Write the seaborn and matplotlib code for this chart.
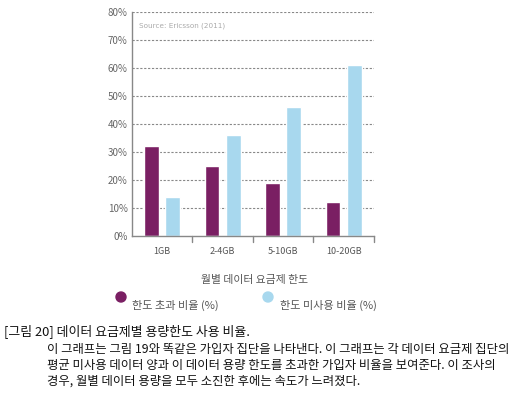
import matplotlib
matplotlib.use("Agg")
import matplotlib.pyplot as plt
import pandas as pd
import seaborn as sns

# data
plans = ["1GB", "2-4GB", "5-10GB", "10-20GB"]
over_limit = [32, 25, 19, 12]
unused = [14, 36, 46, 61]
series_names = ["한도 초과 비율 (%)", "한도 미사용 비율 (%)"]
colors = ["#7a1f63", "#a8d8ee"]
yticks = [0, 10, 20, 30, 40, 50, 60, 70, 80]

sns.set_theme(style="white")
plt.rcParams["font.family"] = ["Noto Sans CJK KR", "DejaVu Sans"]

df = pd.DataFrame({
    "plan": plans * 2,
    "value": over_limit + unused,
    "series": [series_names[0]] * 4 + [series_names[1]] * 4,
})

fig = plt.figure(figsize=(5.15, 3.95), dpi=100)
ax = fig.add_axes([0.256, 0.4025, 0.47, 0.567])

sns.barplot(data=df, x="plan", y="value", hue="series", palette=colors,
            width=0.7, gap=0.3, ax=ax, legend=False, saturation=1)

ax.set_ylim(0, 80)
ax.set_xlim(-0.5, 3.5)
ax.set_yticks(yticks)
ax.set_yticklabels([f"{v}%" for v in yticks], color="#666666", fontsize=7)
ax.tick_params(axis="y", length=0, pad=3)
ax.set_xticks([0, 1, 2, 3])
ax.set_xticklabels(plans, color="#555555", fontsize=6.5)
ax.tick_params(axis="x", length=0, pad=8)
# boundary ticks between categories
for b in [0.5, 1.5, 2.5, 3.5]:
    ax.plot([b, b], [0, -2], color="#888888", lw=1, clip_on=False)
ax.set_xlabel("")
ax.set_ylabel("")
ax.set_axisbelow(True)
for v in yticks[1:]:
    ax.axhline(v, color="#888888", lw=0.8, ls=(0, (2, 1.5)), zorder=0)
for s in ["top", "right"]:
    ax.spines[s].set_visible(False)
for s in ["left", "bottom"]:
    ax.spines[s].set_color("#888888")
    ax.spines[s].set_linewidth(1)

ax.text(0.03, 0.94, "Source: Ericsson (2011)", transform=ax.transAxes,
        fontsize=5.2, color="#aaaaaa", va="center", family="DejaVu Sans")

fig.text(0.495, 0.29, "월별 데이터 요금제 한도", ha="center", va="center",
         fontsize=7.8, color="#555555")

fig.patches.append(matplotlib.patches.Circle((121, 98), 5, transform=None,
                                             color=colors[0], figure=fig))
fig.patches.append(matplotlib.patches.Circle((268, 98), 5, transform=None,
                                             color=colors[1], figure=fig))
fig.text(132 / 515, 1 - 305 / 395, series_names[0], va="center",
         fontsize=8, color="#555555")
fig.text(280 / 515, 1 - 305 / 395, series_names[1], va="center",
         fontsize=8, color="#555555")

fig.text(4 / 515, 1 - 331 / 395, "[그림 20] 데이터 요금제별 용량한도 사용 비율.",
         va="center", fontsize=9.3, color="#111111")
caption = [
    "이 그래프는 그림 19와 똑같은 가입자 집단을 나타낸다. 이 그래프는 각 데이터 요금제 집단의",
    "평균 미사용 데이터 양과 이 데이터 용량 한도를 초과한 가입자 비율을 보여준다. 이 조사의",
    "경우, 월별 데이터 용량을 모두 소진한 후에는 속도가 느려졌다.",
]
for i, line in enumerate(caption):
    fig.text(47 / 515, 1 - (349 + 16 * i) / 395, line, va="center",
             fontsize=8.9, color="#111111")

fig.savefig("out.png", dpi=100)
